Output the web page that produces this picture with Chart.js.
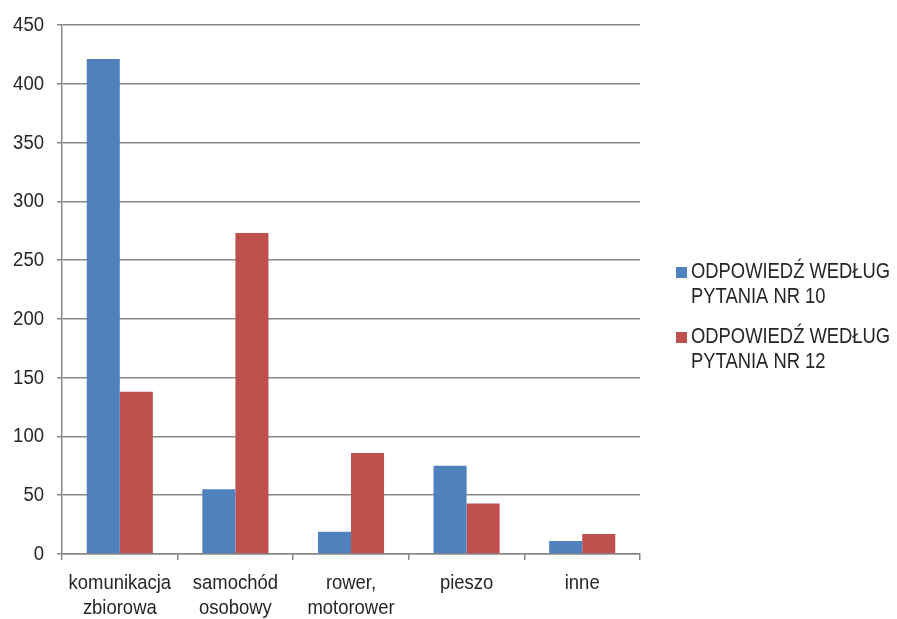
<!DOCTYPE html>
<html>
<head>
<meta charset="utf-8">
<script src="https://cdn.jsdelivr.net/npm/chart.js@4/dist/chart.umd.min.js"></script>
<style>
  html, body { margin: 0; padding: 0; background: #ffffff; }
  #wrap { position: relative; width: 897px; height: 619px; }
</style>
</head>
<body>
<div id="wrap"><canvas id="c" width="897" height="619"></canvas></div>
<script>
// Mode of transport by survey question
const categories = [["komunikacja", "zbiorowa"], ["samochód", "osobowy"], ["rower,", "motorower"], ["pieszo"], ["inne"]];
const seriesNames = [["ODPOWIEDŹ WEDŁUG", "PYTANIA NR 10"], ["ODPOWIEDŹ WEDŁUG", "PYTANIA NR 12"]];
const question10 = [421, 55, 19, 75, 11];
const question12 = [138, 273, 86, 43, 17];
const yTicks = [0, 50, 100, 150, 200, 250, 300, 350, 400, 450];

const colors = ["#4F81BD", "#C0504D"];
const FONT = "'Liberation Sans', Arial, sans-serif";
const TEXT = "#262626";
const GRID = "#878787";

// Condensed text: draws a string squeezed horizontally around its anchor
function narrowText(ctx, s, x, y, align, sx) {
  ctx.save();
  ctx.translate(x, y);
  ctx.scale(sx, 1);
  ctx.textAlign = align;
  ctx.fillText(s, 0, 0);
  ctx.restore();
}

// Axis labels and the two-line legend, placed from the chart's own scales
const labelsAndLegend = {
  id: "labelsAndLegend",
  afterDraw(chart) {
    const ctx = chart.ctx;
    const xs = chart.scales.x, ys = chart.scales.y;
    ctx.save();
    ctx.fillStyle = TEXT;
    ctx.textBaseline = "alphabetic";

    // value axis
    ctx.font = "19.5px " + FONT;
    yTicks.forEach(v => {
      narrowText(ctx, String(v), 44, ys.getPixelForValue(v) + 6, "right", 0.95);
    });

    // category axis
    ctx.font = "20.5px " + FONT;
    chart.data.labels.forEach((lab, i) => {
      const cx = xs.getPixelForValue(i);
      lab.forEach((line, j) => narrowText(ctx, line, cx, 588.5 + j * 25.5, "center", 0.9));
    });

    // legend
    ctx.font = "21.5px " + FONT;
    const baselines = [278, 343];
    chart.data.datasets.forEach((ds, i) => {
      const b = baselines[i];
      ctx.fillStyle = ds.backgroundColor;
      ctx.fillRect(676, b - 11, 11, 11);
      ctx.fillStyle = TEXT;
      seriesNames[i].forEach((line, j) => narrowText(ctx, line, 691, b + j * 24.5, "left", 0.855));
    });
    ctx.restore();
  }
};

new Chart(document.getElementById("c"), {
  type: "bar",
  data: {
    labels: categories,
    datasets: [
      { label: seriesNames[0].join(" "), data: question10, backgroundColor: colors[0], borderWidth: 0 },
      { label: seriesNames[1].join(" "), data: question12, backgroundColor: colors[1], borderWidth: 0 }
    ]
  },
  options: {
    responsive: false,
    animation: false,
    layout: { padding: { top: 25, right: 257, left: 0, bottom: 0 } },
    datasets: { bar: { categoryPercentage: 0.572, barPercentage: 1.0 } },
    plugins: { legend: { display: false }, tooltip: { enabled: false } },
    scales: {
      x: {
        grid: { display: true, drawOnChartArea: false, offset: true, tickLength: 6, color: GRID, lineWidth: 1.5 },
        border: { color: GRID, width: 1.5 },
        ticks: { display: false },
        afterFit(s) { s.height = 65; }
      },
      y: {
        min: 0, max: 450,
        afterBuildTicks(s) { s.ticks = yTicks.map(v => ({ value: v })); },
        grid: { color: GRID, lineWidth: 1.5, tickLength: 5 },
        border: { color: GRID, width: 1.5 },
        ticks: { display: false },
        afterFit(s) { s.width = 62; }
      }
    }
  },
  plugins: [labelsAndLegend]
});
</script>
</body>
</html>
